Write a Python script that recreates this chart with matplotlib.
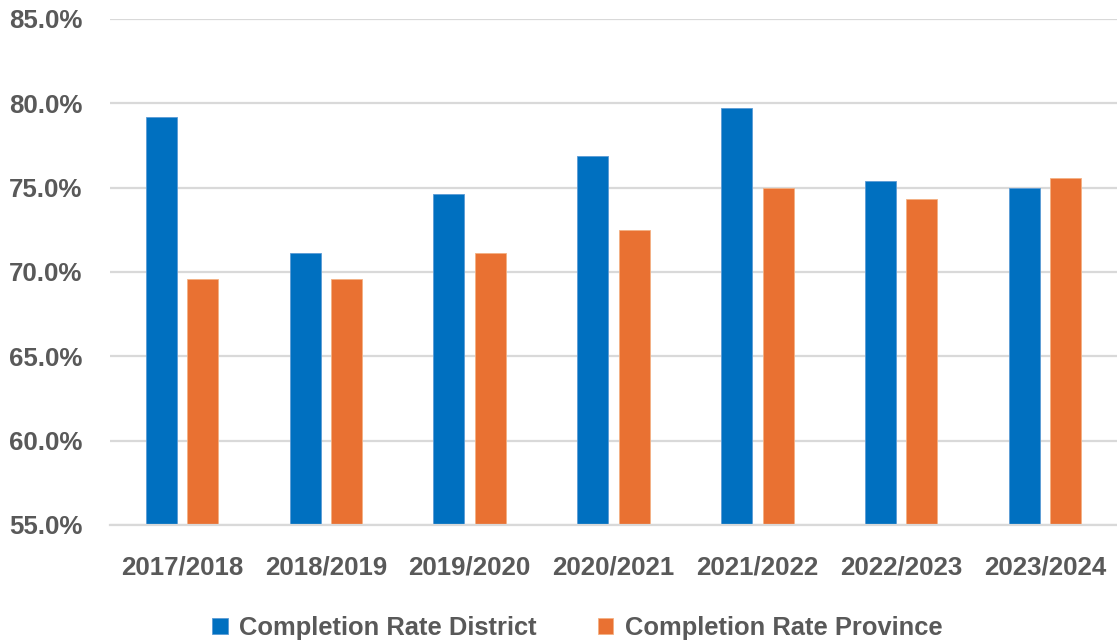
import numpy as np
import matplotlib.pyplot as plt
from matplotlib.ticker import FuncFormatter

years = ["2017/2018", "2018/2019", "2019/2020", "2020/2021",
         "2021/2022", "2022/2023", "2023/2024"]
district = [79.2, 71.1, 74.6, 76.9, 79.7, 75.4, 75.0]
province = [69.6, 69.6, 71.1, 72.5, 75.0, 74.35, 75.55]

BLUE = "#0070C0"
ORANGE = "#E97132"
GREY = "#595959"

plt.rcParams["font.family"] = ["Liberation Sans", "DejaVu Sans"]
plt.rcParams["font.weight"] = "bold"

fig = plt.figure(figsize=(11.17, 6.44), dpi=100)
ax = fig.add_axes([0.0985, 0.1848, 0.9015, 0.7857])

x = np.arange(len(years))
w = 0.215
off = 0.144
ax.bar(x - off, district, w, color=BLUE, edgecolor="#5B9BD5", linewidth=0.6,
       label="Completion Rate District", zorder=3)
ax.bar(x + off, province, w, color=ORANGE, edgecolor="#F4B183", linewidth=0.6,
       label="Completion Rate Province", zorder=3)

ax.set_ylim(55, 85)
ax.set_yticks(np.arange(55, 86, 5))
ax.yaxis.set_major_formatter(FuncFormatter(lambda v, p: f"{v:.1f}%"))
ax.set_xlim(-0.5, len(years) - 0.5)
ax.set_xticks(x)
ax.set_xticklabels(years)

ax.grid(axis="y", color="#D9D9D9", linewidth=1.6, zorder=0)
ax.set_axisbelow(True)
for s in ["top", "right", "left"]:
    ax.spines[s].set_visible(False)
ax.spines["bottom"].set_color("#D9D9D9")
ax.spines["bottom"].set_linewidth(1.6)
ax.spines["bottom"].set_zorder(4)

ax.tick_params(axis="both", length=0, labelsize=18.6, labelcolor=GREY)
ax.tick_params(axis="y", pad=20)
ax.tick_params(axis="x", pad=22)
for lbl in ax.get_xticklabels() + ax.get_yticklabels():
    lbl.set_fontweight("bold")

fig.legend(loc="center", bbox_to_anchor=(0.517, 0.025), ncol=2, frameon=False,
           handlelength=0.6, handleheight=0.6, handletextpad=0.45,
           columnspacing=2.4, labelcolor=GREY, prop={"weight": "bold", "size": 18.4})

fig.savefig("out.png", dpi=100)
